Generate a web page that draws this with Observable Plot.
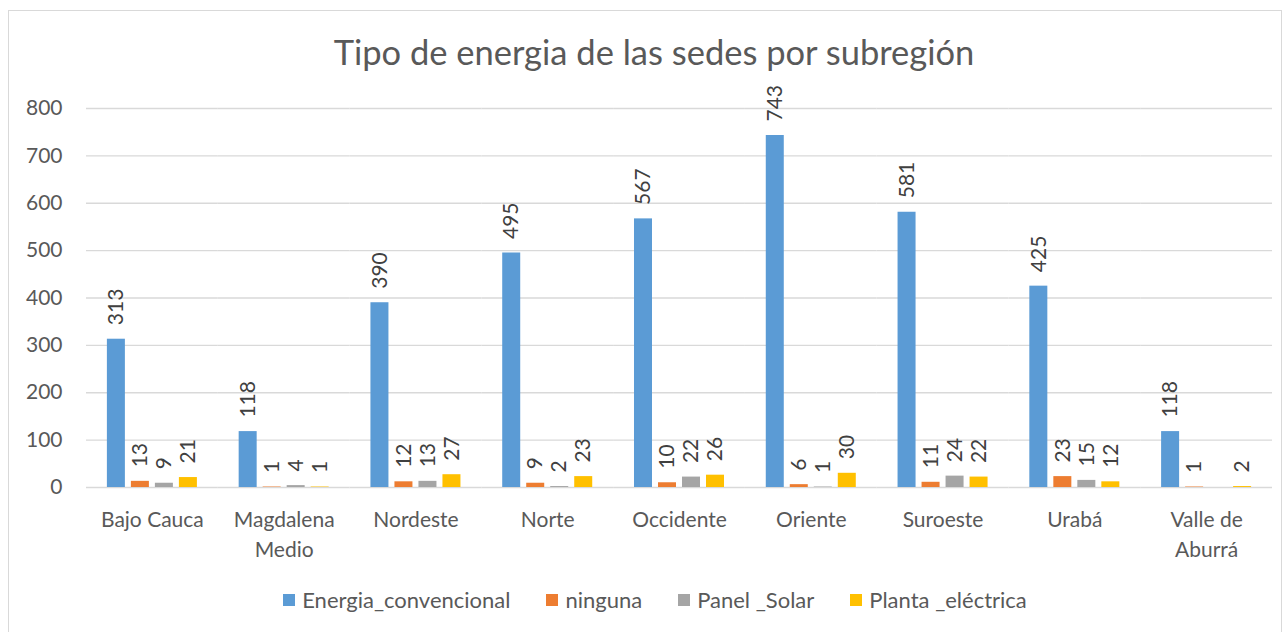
<!DOCTYPE html>
<html>
<head>
<meta charset="utf-8">
<script src="https://cdn.jsdelivr.net/npm/d3@7"></script>
<script src="https://cdn.jsdelivr.net/npm/@observablehq/plot@0.6"></script>
<style>
  body { margin: 0; background: #fff; font-family: Lato, "Open Sans", sans-serif; }
  #frame { position: absolute; left: 8px; top: 10px; width: 1274px; height: 640px; border: 1px solid #d9d9d9; box-sizing: border-box; }
  #title { position: absolute; left: 0; width: 1308px; top: 31px; text-align: center; font-size: 34.5px; line-height: 42px; color: #595959; }
  #chart { position: absolute; left: 0; top: 0; }
  #legend { position: absolute; left: 0; width: 1310px; top: 586px; display: flex; justify-content: center; gap: 36px; font-size: 22px; line-height: 28px; color: #595959; }
  .item { display: flex; align-items: center; }
  .sw { width: 12px; height: 12px; margin-right: 7px; }
</style>
</head>
<body>
<div id="frame"></div>
<div id="title">Tipo de energia de las sedes por subregión</div>
<div id="chart"></div>
<div id="legend"></div>
<script>
const categories = ["Bajo Cauca","Magdalena Medio","Nordeste","Norte","Occidente","Oriente","Suroeste","Urabá","Valle de Aburrá"];
const categoryLabels = ["Bajo Cauca","Magdalena\nMedio","Nordeste","Norte","Occidente","Oriente","Suroeste","Urabá","Valle de\nAburrá"];
const series = ["Energia_convencional","ninguna","Panel _Solar","Planta _eléctrica"];
const energiaConvencional = [313,118,390,495,567,743,581,425,118];
const ninguna = [13,1,12,9,10,6,11,23,1];
const panelSolar = [9,4,13,2,22,1,24,15,null];
const plantaElectrica = [21,1,27,23,26,30,22,12,2];
const colors = ["#5b9bd5","#ed7d31","#a5a5a5","#ffc000"];
const yTicks = [0,100,200,300,400,500,600,700,800];

const seriesValues = [energiaConvencional, ninguna, panelSolar, plantaElectrica];
const rows = [];
categories.forEach((c, i) => {
  series.forEach((s, j) => {
    const v = seriesValues[j][i];
    if (v != null) rows.push({category: c, series: s, value: v});
  });
});
const labelOf = new Map(categories.map((c, i) => [c, categoryLabels[i]]));

const plot = Plot.plot({
  width: 1288,
  height: 570,
  marginTop: 108,
  marginBottom: 83,
  marginLeft: 86,
  marginRight: 16,
  style: {fontFamily: "Lato, 'Open Sans', sans-serif", background: "transparent"},
  fx: {domain: categories, padding: 0, round: false, axis: null},
  x: {domain: series, paddingInner: 0.25, paddingOuter: 0.87, round: false, axis: null},
  y: {domain: [0, 800], axis: null},
  color: {domain: series, range: colors},
  marks: [
    Plot.gridY(yTicks, {stroke: "#d9d9d9", strokeOpacity: 1, strokeWidth: 1.3}),
    Plot.axisY(yTicks, {tickSize: 0, tickPadding: 24, fontSize: 21, fill: "#595959", label: null}),
    Plot.axisFx({anchor: "bottom", label: null, tickSize: 0, tickPadding: 18, fontSize: 21, fill: "#595959", lineHeight: 1.43, tickFormat: d => labelOf.get(d)}),
    Plot.barY(rows, {fx: "category", x: "series", y: "value", fill: "series"}),
    Plot.text(rows, {fx: "category", x: "series", y: "value", text: d => String(d.value), rotate: -90, textAnchor: "start", dy: -14, fontSize: 21, fill: "#404040"})
  ]
});
document.getElementById("chart").appendChild(plot);

const legend = document.getElementById("legend");
series.forEach((s, j) => {
  const it = document.createElement("div");
  it.className = "item";
  const sw = document.createElement("span");
  sw.className = "sw";
  sw.style.background = colors[j];
  const t = document.createElement("span");
  t.textContent = s;
  it.appendChild(sw); it.appendChild(t);
  legend.appendChild(it);
});
</script>
</body>
</html>
